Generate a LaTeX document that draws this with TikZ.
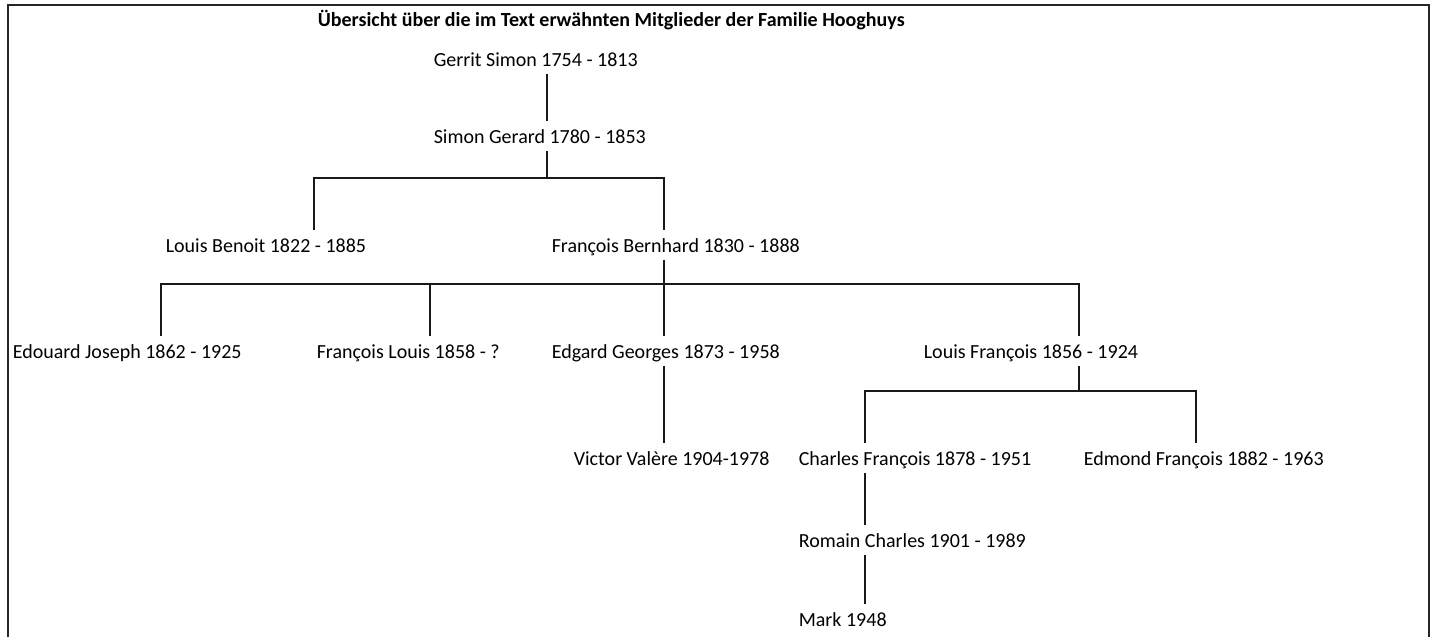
\documentclass[tikz,border=0pt]{standalone}
\usepackage{fontspec}
\setmainfont{Carlito}
\usetikzlibrary{positioning}

\begin{document}
\begin{tikzpicture}[
  x=0.5pt, y=-0.5pt, line width=0.8pt,
  person/.style={anchor=base west,inner xsep=0pt,inner ysep=3.5pt,
    text height=7pt,text depth=0pt,font=\fontsize{10}{12}\selectfont},
  heading/.style={anchor=base west,inner sep=0pt,font=\fontsize{10}{12}\selectfont\bfseries},
  frame line/.style={draw=black!85,line width=1pt},
  family line/.style={draw=black!90}
]
\useasboundingbox (0,0) rectangle (1438,637);
\draw[frame line] (8,637) -- (8,5) -- (1429,5) -- (1429,637);

\node[heading] (title) at (317,26) {Übersicht über die im Text erwähnten Mitglieder der Familie Hooghuys};

% generations
\node[person] (gerrit)  at (433,66)   {Gerrit Simon 1754 - 1813};
\node[person] (simon)   at (433,143)  {Simon Gerard 1780 - 1853};
\node[person] (louisb)  at (165,252)  {Louis Benoit 1822 - 1885};
\node[person] (francb)  at (551,252)  {François Bernhard 1830 - 1888};
\node[person] (edouard) at (12,358)   {Edouard Joseph 1862 - 1925};
\node[person] (francl)  at (316,358)  {François Louis 1858 - ?};
\node[person] (edgard)  at (551,358)  {Edgard Georges 1873 - 1958};
\node[person] (louisf)  at (923,358)  {Louis François 1856 - 1924};
\node[person] (victor)  at (573,465)  {Victor Valère 1904-1978};
\node[person] (charles) at (798,465)  {Charles François 1878 - 1951};
\node[person] (edmond)  at (1083,465) {Edmond François 1882 - 1963};
\node[person] (romain)  at (798,547)  {Romain Charles 1901 - 1989};
\node[person] (mark)    at (798,626)  {Mark 1948};

% branch points
\coordinate (stem1) at (547,178);
\coordinate (bar1l) at (314,178);
\coordinate (bar1r) at (664,178);
\coordinate (bar2l) at (161,284);
\coordinate (bar2m) at (430,284);
\coordinate (bar2r) at (1079,284);
\coordinate (bar3l) at (865,391);
\coordinate (bar3r) at (1196,391);

\draw[family line] (gerrit.south -| stem1) -- (simon.north -| stem1);
\draw[family line] (simon.south -| stem1) -- (stem1);
\draw[family line] (louisb.north -| bar1l) -- (bar1l) -- (bar1r) -- (francb.north -| bar1r);
\draw[family line] (francb.south -| bar1r) -- (edgard.north -| bar1r);
\draw[family line] (edouard.north -| bar2l) -- (bar2l) -- (bar2r) -- (louisf.north -| bar2r);
\draw[family line] (bar2m) -- (francl.north -| bar2m);
\draw[family line] (edgard.south -| bar1r) -- (victor.north -| bar1r);
\draw[family line] (louisf.south -| bar2r) -- (bar3l -| bar2r);
\draw[family line] (charles.north -| bar3l) -- (bar3l) -- (bar3r) -- (edmond.north -| bar3r);
\draw[family line] (charles.south -| bar3l) -- (romain.north -| bar3l);
\draw[family line] (romain.south -| bar3l) -- (mark.north -| bar3l);
\end{tikzpicture}
\end{document}
